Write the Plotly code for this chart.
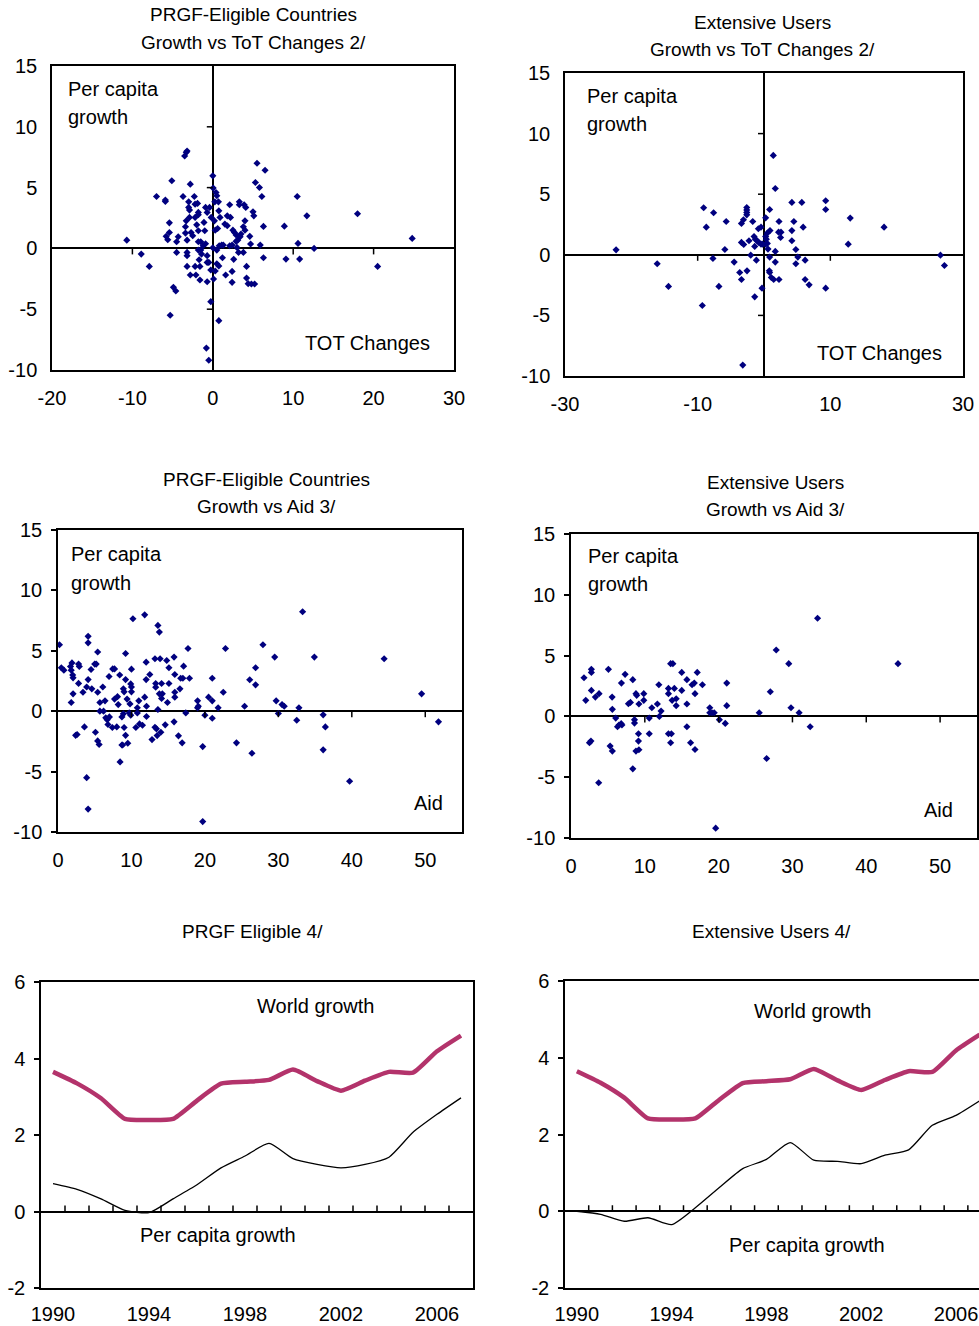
import plotly.graph_objects as go

# ---------------- data ----------------
tot_prgf_x = [-10.7, -8.9, -7.9, -7.0, -5.9, -5.9, -5.8, -5.6, -5.4, -5.4, -5.1, -5.3, -4.9, -4.6, -4.5, -4.5, -4.3,
              -3.7, -3.5, -3.3, -3.2, -3.4, -3.4, -3.3, -3.2, -3.2, -3.2, -3.2, -3.0, -3.0, -2.9, -2.8, -2.9, -2.7,
              -2.5, -2.8, -2.3, -2.2, -2.2, -2.2, -2.1, -2.0, -1.9, -1.8, -1.8, -1.8, -1.8, -1.8, -1.7, -1.6, -1.6,
              -1.5, -1.5, -1.4, -1.2, -1.1, -1.0, -0.9, -0.9, -0.8, -0.7, -0.7, -0.7, -0.7, -0.4, -0.5, -0.5, -0.25,
              -0.25, -0.2, 0.0, 0.0, 0.05, 0.1, 0.2, 0.25, 0.3, 0.3, 0.4, 0.5, 0.5, 0.5, 0.6, 0.7, 0.75, 0.75, 0.75,
              0.8, 0.9, 1.1, 1.2, 1.3, 1.5, 1.6, 1.8, 1.8, 2.1, 2.1, 2.2, 2.4, 2.4, 2.4, 2.5, 2.6, 2.7, 2.9, 2.9, 3.0,
              3.2, 3.1, 3.3, 3.3, 3.4, 3.5, 3.8, 3.8, 3.9, 4.0, 4.0, 4.1, 4.2, 4.2, 4.4, 4.6, 4.7, 4.8, 5.0, 5.1, 5.2,
              5.3, 5.5, 5.8, 5.9, 6.1, 6.3, 6.3, 6.5, 8.9, 9.1, 10.5, 10.6, 10.8, 11.7, 12.6, 18.0, 20.5, 24.8]
tot_prgf_y = [0.68, -0.47, -1.48, 4.27, 3.97, 3.86, 0.99, 0.71, 2.1, 1.31, 5.56, -5.5, -3.2, -3.5, 0.55, -0.33, 0.96,
              4.27, 7.6, 7.9, 8.0, 1.78, 1.26, 2.27, 0.68, -0.33, -0.6, -1.48, 3.83, 3.37, 3.15, 5.28, 2.55, 1.31,
              1.04, -2.19, 4.27, 3.64, 2.55, -1.48, -2.19, 1.94, 3.7, 2.96, 2.77, 1.45, 0.55, -0.14, -0.93, -1.48,
              -2.6, 0.55, -0.14, -0.47, 0.22, 2.14, 1.45, 3.37, 0.38, -8.2, 2.96, -0.6, -1.15, -2.74, 3.37, -9.2,
              -1.15, -4.38, -1.78, 2.55, 5.97, 0.05, 4.96, -2.52, 2.27, 3.83, 1.5, -1.86, 4.6, 4.33, -0.14, -1.26,
              1.64, 3.83, 3.09, -1.45, -5.94, 0.22, 2.55, 0.27, -0.77, 0.27, 2.0, -2.19, 1.86, 2.68, 3.59, 0.22, 2.55,
              -1.89, -2.79, 0.27, 1.5, -0.9, 1.31, 1.1, 0.58, 0.08, -0.33, 0.68, 3.83, 3.59, 0.96, 1.18, -0.33, 1.78,
              3.59, 2.27, 1.5, 3.37, -1.48, -2.44, -2.9, 0.99, 0.36, -2.93, 3.01, 2.68, -2.93, 5.42, 7.0, 5.01, 0.27,
              4.27, 1.81, -0.77, 6.43, 1.83, -0.88, 4.27, 0.41, -0.88, 2.68, 0.0, 2.85, -1.48, 0.82]

tot_ext_x = [1.4, 1.7, -9.1, -7.6, -8.7, -5.7, -2.6, -2.6, -2.6, -2.6, -3.1, -3.4, -1.7, -0.85, -0.45, 0.25, 0.85,
             2.26, 4.5, 4.2, 5.7, 9.3, 9.3, 13.0, 5.9, 2.2, 2.56, 2.5, 4.2, 4.2, 4.8, 0.9, 0.5, 0.25, 0.35, -1.5,
             -1.3, -1.05, -0.8, -0.45, -0.2, 0.25, 0.5, -2.26, -3.4, -3.06, -1.4, -5.9, 1.7, 0.6, -2.0, -7.7, -1.15,
             0.85, 5.1, 6.2, -4.5, 1.7, 4.8, -3.66, -2.56, 0.8, 0.85, -3.4, 1.1, 1.46, 2.26, 6.2, 6.8, 9.3, -6.8,
             -14.4, -0.3, -1.4, -9.3, -22.3, -16.1, 12.7, 18.1, 26.6, 27.2, -3.2]
tot_ext_y = [8.2, 5.47, 3.88, 3.47, 2.28, 2.75, 3.9, 3.7, 3.5, 3.3, 2.89, 2.59, 2.75, 2.15, 2.28, 3.05, 3.74, 2.75,
             2.75, 4.32, 4.32, 4.46, 3.74, 3.03, 2.28, 1.87, 1.87, 1.43, 2.0, 1.16, 0.44, 2.0, 1.79, 1.51, 1.29, 1.51,
             1.29, 1.16, 1.02, 0.88, 0.88, 0.88, 0.94, 1.16, 1.02, 0.85, 0.69, 0.44, 0.28, 0.47, -0.03, -0.3, -0.44,
             -0.19, -0.19, -0.44, -0.6, -0.6, -0.74, -1.46, -1.32, -1.32, -1.46, -2.04, -1.87, -2.04, -2.04, -2.04,
             -2.48, -2.75, -2.61, -2.61, -2.75, -3.47, -4.18, 0.41, -0.74, 0.88, 2.28, -0.03, -0.88, -9.1]

aid_prgf_x = [0.2, 0.45, 0.8, 1.7, 1.9, 1.8, 2.0, 2.05, 2.05, 1.8, 2.8, 2.9, 2.8, 2.6, 2.4, 3.4, 3.6, 3.9, 4.1, 4.1,
              4.1, 3.9, 4.1, 4.5, 4.6, 5.0, 5.2, 5.1, 5.4, 5.4, 5.4, 5.6, 5.7, 5.7, 6.1, 6.2, 6.4, 6.5, 6.7, 6.8,
              6.95, 7.0, 7.4, 7.45, 7.7, 7.7, 8.0, 8.1, 8.2, 8.4, 8.45, 8.7, 8.8, 8.7, 8.9, 8.9, 9.0, 9.0, 9.2, 9.2,
              9.2, 9.4, 9.5, 9.7, 9.8, 9.9, 10.0, 10.0, 9.9, 10.0, 10.2, 10.6, 10.8, 10.8, 11.0, 11.1, 11.5, 11.8,
              11.8, 12.0, 12.0, 12.05, 12.05, 12.5, 12.8, 13.2, 13.3, 13.3, 13.2, 13.4, 13.5, 13.6, 13.6, 13.8, 13.9,
              13.8, 14.0, 14.1, 14.1, 14.2, 14.6, 14.8, 14.9, 15.1, 15.1, 15.8, 15.9, 15.9, 15.9, 15.8, 16.4, 16.6,
              16.7, 17.0, 16.9, 17.1, 17.4, 17.7, 17.9, 19.0, 19.0, 19.1, 19.7, 19.7, 20.0, 20.5, 21.0, 21.0, 21.0,
              21.8, 22.5, 22.8, 24.3, 25.4, 26.1, 26.4, 26.9, 26.9, 27.9, 29.5, 29.7, 30.0, 30.5, 30.8, 32.5, 32.8,
              33.3, 34.9, 36.1, 36.1, 36.4, 39.7, 44.4, 49.5, 51.8]
aid_prgf_y = [5.5, 3.6, 3.4, 3.7, 4.0, 3.4, 3.0, 2.76, 1.44, 0.72, 3.9, 3.7, 2.3, -1.93, -2.0, 1.57, -1.3, 2.0, 6.2,
              5.66, 2.62, -5.5, -8.1, 3.45, 1.85, 3.9, 3.9, -1.74, 4.9, 1.57, -2.46, -2.76, 0.72, 0.0, 2.0, 0.0, 0.86,
              -0.55, -0.7, -1.1, 2.87, -0.47, -1.35, 3.5, 3.5, 1.0, -1.3, 1.2, 0.55, 3.0, -4.2, -2.8, -2.8, -0.47,
              -0.22, 1.85, 1.6, -1.35, 4.78, 2.62, -2.0, 1.0, -2.65, -0.14, 0.6, 2.26, 2.0, 1.6, -0.33, 3.48, 7.65,
              -1.35, 0.28, -0.14, 0.86, -1.05, -1.16, 7.98, 1.16, 4.06, 2.62, 0.41, -0.44, 3.04, -2.35, 4.34, 2.29,
              1.99, -1.33, -1.46, -2.02, 7.1, 0.14, 6.55, 4.34, 1.44, -1.74, 2.29, 1.05, 1.44, -1.13, 4.2, 0.72, 3.6,
              2.29, 4.48, 3.04, 1.57, 1.16, -0.88, -2.04, 1.85, 2.73, 2.73, -2.62, 3.73, -0.14, 5.19, 2.73, 0.86,
              0.28, 0.41, -2.93, -9.14, -0.33, 1.16, 2.73, 0.86, -0.58, 0.28, 1.57, 5.19, -2.62, 0.41, 2.6, -3.48,
              2.18, 3.6, 5.5, 4.48, 0.86, -0.19, 0.55, 0.41, -0.75, 0.28, 8.23, 4.48, -0.3, -3.2, -1.3, -5.8, 4.34,
              1.44, -0.88]

aid_ext_x = [1.76, 2.0, 2.5, 2.7, 2.76, 2.76, 2.76, 3.3, 3.8, 3.75, 5.07, 5.3, 5.57, 5.6, 5.6, 6.06, 6.3, 6.5, 6.8,
             6.9, 6.83, 7.33, 7.78, 8.05, 8.37, 8.6, 8.6, 8.37, 8.8, 8.9, 8.8, 9.2, 9.14, 9.14, 9.2, 9.86, 9.86, 10.6,
             10.6, 10.95, 11.7, 11.9, 11.97, 12.2, 13.2, 13.2, 13.2, 13.6, 13.5, 13.5, 13.8, 13.7, 14.0, 14.25, 14.25,
             15.0, 15.0, 15.7, 15.7, 15.7, 16.2, 16.4, 16.7, 16.8, 16.8, 17.1, 17.8, 18.8, 18.8, 19.1, 19.4, 19.6,
             20.1, 20.9, 21.1, 21.1, 25.5, 26.5, 27.0, 27.8, 29.5, 29.8, 30.9, 32.4, 33.4, 44.3]
aid_ext_y = [3.18, 1.32, -2.17, -2.03, 3.87, 3.62, 2.14, 1.59, 1.87, -5.46, 3.87, -2.44, 1.59, 0.58, -2.85, -0.14,
             -0.85, -0.71, -0.6, -0.71, 2.74, 3.46, 1.04, 1.15, 3.02, -0.27, -0.55, -4.31, 1.87, 1.73, -2.85, -2.74,
             -1.43, -2.03, 1.02, 1.87, 1.32, -0.14, -1.43, 0.71, 1.02, 2.6, 0.0, 0.44, 2.3, 1.87, -1.43, -1.43, -2.17,
             4.34, 4.34, 1.32, 2.3, 1.45, 0.88, 3.62, 2.14, 3.02, 1.02, -0.85, -2.17, 2.6, 2.74, 1.87, -2.72, 3.62,
             2.6, 0.71, 0.3, 0.3, 0.3, -9.19, -0.27, -0.58, 2.74, 0.88, 0.3, -3.46, 2.03, 5.46, 4.34, 0.71, 0.3,
             -0.85, 8.07, 4.34]

years = [1990, 1991, 1992, 1993, 1994, 1995, 1996, 1997, 1998, 1999, 2000, 2001, 2002, 2003, 2004, 2005, 2006, 2007]
world_growth = [3.65, 3.35, 2.96, 2.42, 2.39, 2.42, 2.9, 3.34, 3.39, 3.44, 3.71, 3.41, 3.16, 3.42, 3.65, 3.63, 4.19, 4.6]
pc_growth_prgf = [0.73, 0.58, 0.33, 0.03, -0.03, 0.33, 0.7, 1.14, 1.45, 1.78, 1.38, 1.23, 1.14, 1.23, 1.42, 2.07, 2.54, 2.97]
pc_growth_ext = [0.0, -0.08, -0.26, -0.17, -0.35, 0.09, 0.61, 1.11, 1.35, 1.79, 1.33, 1.3, 1.24, 1.46, 1.6, 2.24, 2.5, 2.88]

# title lines per panel
titles = [["PRGF-Eligible Countries", "Growth vs ToT Changes 2/"], ["Extensive Users", "Growth vs ToT Changes 2/"],
          ["PRGF-Eligible Countries", "Growth vs Aid 3/"], ["Extensive Users", "Growth vs Aid 3/"],
          ["PRGF Eligible 4/"], ["Extensive Users 4/"]]

# ---------------- layout helpers ----------------
W, H = 979, 1326
FONT = "Arial, 'Liberation Sans', sans-serif"
NAVY = "#00007F"
MAGENTA = "#B3336B"


def fx(p):
    return p / W


def fy(p):
    return 1 - p / H


# plot-area pixel boxes: (left, right, top, bottom)
boxes = [(52, 454, 66, 370), (565, 963, 73, 376), (58, 462, 530, 832),
         (571, 977, 534, 838), (41, 473, 982, 1288), (565, 979, 981, 1288)]

fig = go.Figure()

scatter_sets = [(tot_prgf_x, tot_prgf_y), (tot_ext_x, tot_ext_y), (aid_prgf_x, aid_prgf_y), (aid_ext_x, aid_ext_y)]
for i, (xs, ys) in enumerate(scatter_sets):
    n = "" if i == 0 else str(i + 1)
    fig.add_trace(go.Scatter(x=xs, y=ys, mode="markers", xaxis="x" + n, yaxis="y" + n,
                             marker=dict(symbol="diamond", size=5.5, color=NAVY), showlegend=False,
                             cliponaxis=False))

for i, pc in [(4, pc_growth_prgf), (5, pc_growth_ext)]:
    n = str(i + 1)
    fig.add_trace(go.Scatter(x=years, y=pc, mode="lines", xaxis="x" + n, yaxis="y" + n,
                             line=dict(color="black", width=1.3, shape="spline", smoothing=0.6),
                             showlegend=False))
    fig.add_trace(go.Scatter(x=years, y=world_growth, mode="lines", xaxis="x" + n, yaxis="y" + n,
                             line=dict(color=MAGENTA, width=4.5, shape="spline", smoothing=0.5),
                             showlegend=False))

x_ranges = [[-20, 30], [-30, 30], [0, 55], [0, 55], [1989.5, 2007.5], [1989.5, 2006.97]]
y_ranges = [[-10, 15], [-10, 15], [-10, 15], [-10, 15], [-2, 6], [-2, 6]]
x_ticks = [[-20, -10, 0, 10, 20, 30], [-30, -10, 10, 30], [0, 10, 20, 30, 40, 50], [0, 10, 20, 30, 40, 50],
           [1990, 1994, 1998, 2002, 2006], [1990, 1994, 1998, 2002, 2006]]
y_ticks = [[-10, -5, 0, 5, 10, 15]] * 4 + [[-2, 0, 2, 4, 6]] * 2
y_standoff = [9, 9, 5, 5, 5, 5]

layout = dict(width=W, height=H, margin=dict(l=0, r=0, t=0, b=0), paper_bgcolor="white",
              plot_bgcolor="white", font=dict(family=FONT, size=20, color="black"), showlegend=False)

for i, (l, r, t, b) in enumerate(boxes):
    n = "" if i == 0 else str(i + 1)
    ax_common = dict(showgrid=False, linecolor="black", linewidth=1.5, showline=True, automargin=False,
                     zerolinecolor="black", zerolinewidth=1.5, tickfont=dict(family=FONT, size=20, color="black"))
    layout["xaxis" + n] = dict(ax_common, domain=[fx(l), fx(r)], anchor="y" + n, range=x_ranges[i],
                               tickvals=x_ticks[i], ticktext=[str(v) for v in x_ticks[i]], ticks="",
                               mirror=True, zeroline=(i < 4), ticklabelstandoff=(9 if i < 4 else 7))
    layout["yaxis" + n] = dict(ax_common, domain=[fy(b), fy(t)], anchor="x" + n, range=y_ranges[i],
                               tickvals=y_ticks[i], ticktext=[str(v) for v in y_ticks[i]],
                               mirror=(i != 5), zeroline=True,
                               ticks=("outside" if i >= 2 else ""), ticklen=5, tickcolor="black", tickwidth=1.5,
                               ticklabelstandoff=y_standoff[i])

fig.update_layout(**layout)

# tick marks drawn on the zero lines
shapes = []


def ref(i):
    return ("x" if i == 0 else "x%d" % (i + 1)), ("y" if i == 0 else "y%d" % (i + 1))


for i, vals in [(0, [-10, 10, 20]), (1, [-10, 10]), (2, [10, 20, 30, 40, 50]), (3, [10, 20, 30, 40, 50])]:
    xr, yr = ref(i)
    for v in vals:
        shapes.append(dict(type="line", xref=xr, yref=yr, ysizemode="pixel", yanchor=0, y0=-6, y1=0,
                           x0=v, x1=v, line=dict(color="black", width=1.5)))
for i in [0, 1]:
    xr, yr = ref(i)
    for v in [-5, 5, 10]:
        shapes.append(dict(type="line", xref=xr, yref=yr, xsizemode="pixel", xanchor=0, x0=-6, x1=0,
                           y0=v, y1=v, line=dict(color="black", width=1.5)))
for i in [4, 5]:
    xr, yr = ref(i)
    for yv in years[:-1]:
        shapes.append(dict(type="line", xref=xr, yref=yr, ysizemode="pixel", yanchor=0, y0=0, y1=6,
                           x0=yv + 0.5, x1=yv + 0.5, line=dict(color="black", width=1.5)))
fig.update_layout(shapes=shapes)

# titles and in-plot labels (one annotation per line)
ann = []
title_pos = [(253, 15), (762, 22), (266, 479), (775, 482), (252, 932), (771, 932)]
for lines, (x, y) in zip(titles, title_pos):
    for k, txt in enumerate(lines):
        ann.append(dict(text=txt, x=fx(x), y=fy(y + 28 * k), xref="paper", yref="paper", showarrow=False,
                        xanchor="center", yanchor="middle", font=dict(size=19)))

labels = [("Per capita", 66, 89, "left"), ("growth", 66, 117, "left"),
          ("Per capita", 585, 96, "left"), ("growth", 585, 124, "left"),
          ("Per capita", 69, 554, "left"), ("growth", 69, 583, "left"),
          ("Per capita", 586, 556, "left"), ("growth", 586, 584, "left"),
          ("TOT Changes", 432, 343, "right"), ("TOT Changes", 944, 353, "right"),
          ("Aid", 445, 803, "right"), ("Aid", 955, 810, "right"),
          ("World growth", 255, 1006, "left"), ("Per capita growth", 138, 1235, "left"),
          ("World growth", 752, 1011, "left"), ("Per capita growth", 727, 1245, "left")]
for txt, x, y, anc in labels:
    ann.append(dict(text=txt, x=fx(x), y=fy(y), xref="paper", yref="paper", showarrow=False,
                    xanchor=anc, yanchor="middle", align="left"))
fig.update_layout(annotations=ann)

fig.write_html("out.html", config={"displayModeBar": False},
               post_script="document.body.style.margin='0';document.body.style.overflow='hidden';")
